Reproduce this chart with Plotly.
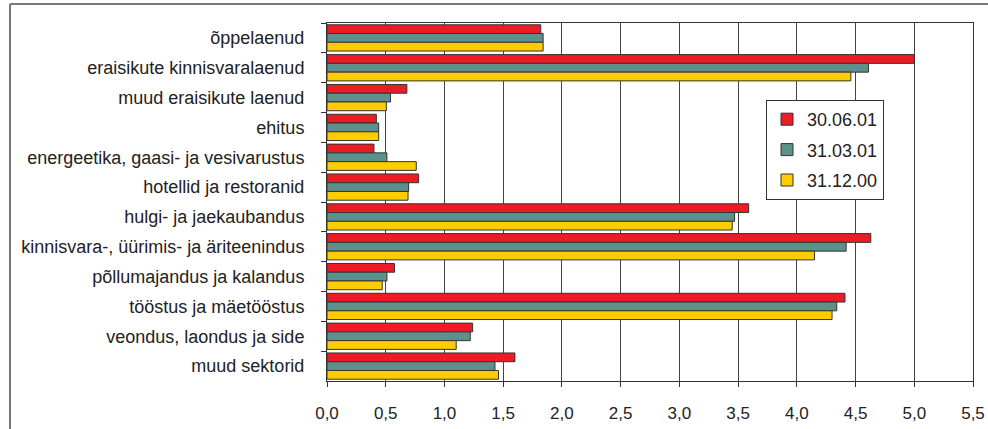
import plotly.graph_objects as go

categories = [
    "õppelaenud",
    "eraisikute kinnisvaralaenud",
    "muud eraisikute laenud",
    "ehitus",
    "energeetika, gaasi- ja vesivarustus",
    "hotellid ja restoranid",
    "hulgi- ja jaekaubandus",
    "kinnisvara-, üürimis- ja äriteenindus",
    "põllumajandus ja kalandus",
    "tööstus ja mäetööstus",
    "veondus, laondus ja side",
    "muud sektorid",
]
s_300601 = [1.82, 5.00, 0.68, 0.42, 0.40, 0.78, 3.59, 4.63, 0.575, 4.41, 1.24, 1.60]
s_310301 = [1.84, 4.61, 0.54, 0.44, 0.51, 0.695, 3.47, 4.42, 0.51, 4.34, 1.22, 1.43]
s_311200 = [1.84, 4.46, 0.505, 0.44, 0.76, 0.69, 3.45, 4.15, 0.47, 4.30, 1.10, 1.46]
series_names = ["30.06.01", "31.03.01", "31.12.00"]
colors = ["#ED1C24", "#5F918C", "#FFCC00"]
x_ticks = [i * 0.5 for i in range(12)]
x_tick_labels = [f"{v:.1f}".replace(".", ",") for v in x_ticks]

fig = go.Figure()
for i, (name, vals) in enumerate(zip(series_names, [s_300601, s_310301, s_311200])):
    fig.add_trace(go.Bar(
        y=categories, x=vals, name=name, orientation="h",
        marker=dict(color=colors[i], line=dict(color="#333333", width=1)),
        legendgroup=f"g{i}",
    ))

L, R, T, B = 327, 15, 23, 48
W, H = 988, 429
pw, ph = W - L - R, H - T - B

def px_x(p):
    return (p - L) / pw

def px_y(p):
    return 1 - (p - T) / ph

fig.update_layout(
    width=W, height=H,
    margin=dict(l=L, r=R, t=T, b=B, autoexpand=False),
    barmode="group", bargap=0.12, bargroupgap=0,
    paper_bgcolor="white", plot_bgcolor="white",
    font=dict(family="Liberation Sans, Arial, sans-serif", size=17, color="#222222"),
    showlegend=True,
    legend=dict(
        x=px_x(766), y=px_y(100), xanchor="left", yanchor="top",
        bgcolor="white", bordercolor="#333333", borderwidth=1,
        font=dict(size=18, color="#222222"),
        traceorder="grouped", tracegroupgap=4,
        itemwidth=30,
    ),
    xaxis=dict(
        range=[0, 5.5], tickvals=x_ticks, ticktext=x_tick_labels,
        showgrid=True, gridcolor="#444444", gridwidth=1,
        showline=True, linecolor="#333333", linewidth=1, mirror=True,
        ticks="outside", ticklen=5, tickcolor="#333333",
        ticklabelstandoff=12, zeroline=False, automargin=False,
        tickfont=dict(size=17),
    ),
    yaxis=dict(
        autorange="reversed", type="category",
        showline=True, linecolor="#333333", linewidth=1, mirror=True,
        ticks="outside", ticklen=5, tickcolor="#333333", tickson="boundaries",
        ticklabelstandoff=18, showgrid=False, automargin=False,
        tickfont=dict(size=18),
    ),
    shapes=[
        dict(type="line", xref="paper", yref="paper",
             x0=px_x(10), x1=px_x(10), y0=px_y(4), y1=px_y(440),
             line=dict(color="#777777", width=2)),
        dict(type="line", xref="paper", yref="paper",
             x0=px_x(10), x1=px_x(1000), y0=px_y(4), y1=px_y(4),
             line=dict(color="#777777", width=2)),
    ],
)

fig.write_html("out.html", config={"displayModeBar": False},
               post_script="document.body.style.margin='0';")
